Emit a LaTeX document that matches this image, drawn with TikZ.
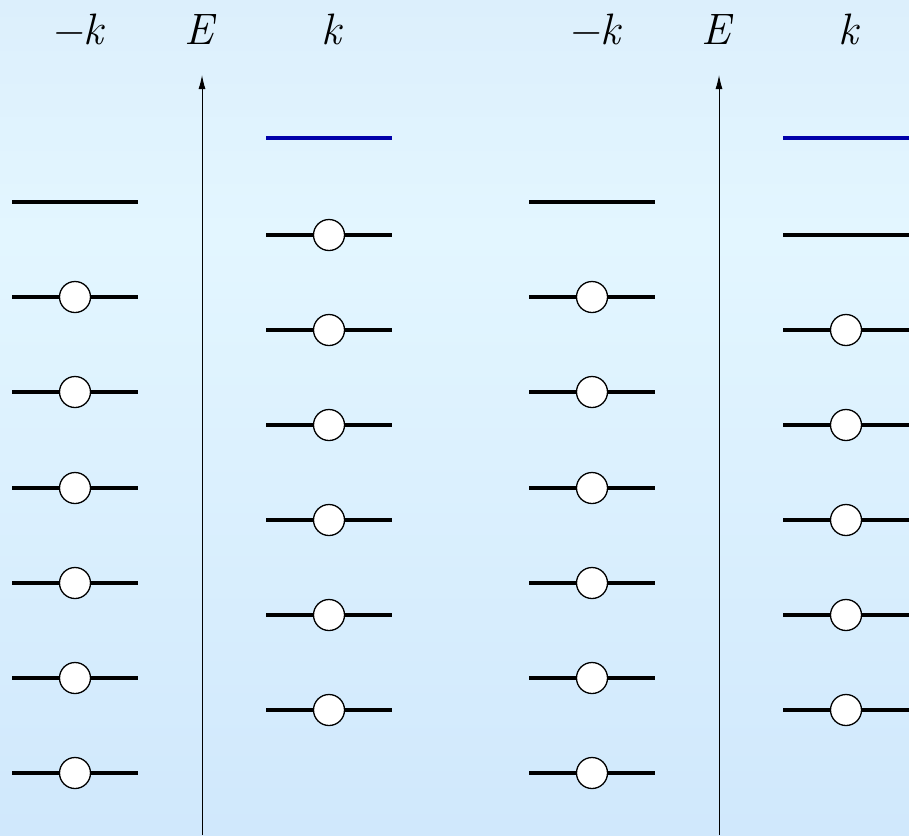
\documentclass[tikz,border=0pt]{standalone}
\usepackage{fontspec}
\usetikzlibrary{arrows.meta}
\definecolor{bgtop}{RGB}{220,239,252}
\definecolor{bgmid}{RGB}{227,246,255}
\definecolor{bgbot}{RGB}{208,232,252}
\definecolor{lvlblue}{RGB}{0,0,170}
\pgfdeclareverticalshading{bgshade}{100bp}{color(0bp)=(bgbot); color(25bp)=(bgbot); color(61bp)=(bgmid); color(75bp)=(bgtop); color(100bp)=(bgtop)}
\tikzset{
  level/.style={line width=4pt},
  toplevel/.style={line width=4pt, draw=lvlblue},
  hole/.style={circle, draw=black, fill=white, line width=1.3pt, minimum size=31pt, inner sep=0pt},
  axis/.style={line width=1pt, -{Latex[length=14pt,width=7pt]}},
  lab/.style={anchor=base, font=\fontsize{44}{48}\selectfont\itshape, inner sep=0pt}
}
\begin{document}
\begin{tikzpicture}[x=1pt,y=-1pt]
\useasboundingbox (0,0) rectangle (909,835);
\clip (0,0) rectangle (909,835);
\shade[shading=bgshade] (0,0) rectangle (909,835);
\foreach \p/\dx in {a/0,b/517}{
  \begin{scope}[xshift=\dx pt]
  % labels
  \node[lab] (\p-mk) at (77,44) {−k};
  \node[lab] (\p-E) at (199,44) {E};
  \node[lab] (\p-k) at (331,44) {k};
  % energy axis
  \coordinate (\p-ax0) at (202,835);
  \coordinate (\p-ax1) at (202,75);
  \draw[axis] (\p-ax0) -- (\p-ax1);
  % -k column
  \coordinate (\p-L0l) at (12,202); \coordinate (\p-L0r) at (138,202);
  \draw[level] (\p-L0l) -- (\p-L0r);
  \foreach \i/\y in {1/297,2/392,3/488,4/583,5/678,6/773}{
    \coordinate (\p-L\i l) at (12,\y); \coordinate (\p-L\i r) at (138,\y);
    \draw[level] (\p-L\i l) -- (\p-L\i r);
    \node[hole] (\p-Lh\i) at (75,\y) {};
  }
  % k column
  \coordinate (\p-R0l) at (266,138); \coordinate (\p-R0r) at (392,138);
  \draw[toplevel] (\p-R0l) -- (\p-R0r);
  \end{scope}
}
% left panel k column: six filled levels
\foreach \i/\y in {1/235,2/330,3/425,4/520,5/615,6/710}{
  \coordinate (a-R\i l) at (266,\y); \coordinate (a-R\i r) at (392,\y);
  \draw[level] (a-R\i l) -- (a-R\i r);
  \node[hole] (a-Rh\i) at (329,\y) {};
}
% right panel k column: one empty level, five filled
\coordinate (b-R1l) at (783,235); \coordinate (b-R1r) at (909,235);
\draw[level] (b-R1l) -- (b-R1r);
\foreach \i/\y in {2/330,3/425,4/520,5/615,6/710}{
  \coordinate (b-R\i l) at (783,\y); \coordinate (b-R\i r) at (909,\y);
  \draw[level] (b-R\i l) -- (b-R\i r);
  \node[hole] (b-Rh\i) at (846,\y) {};
}
\end{tikzpicture}
\end{document}
